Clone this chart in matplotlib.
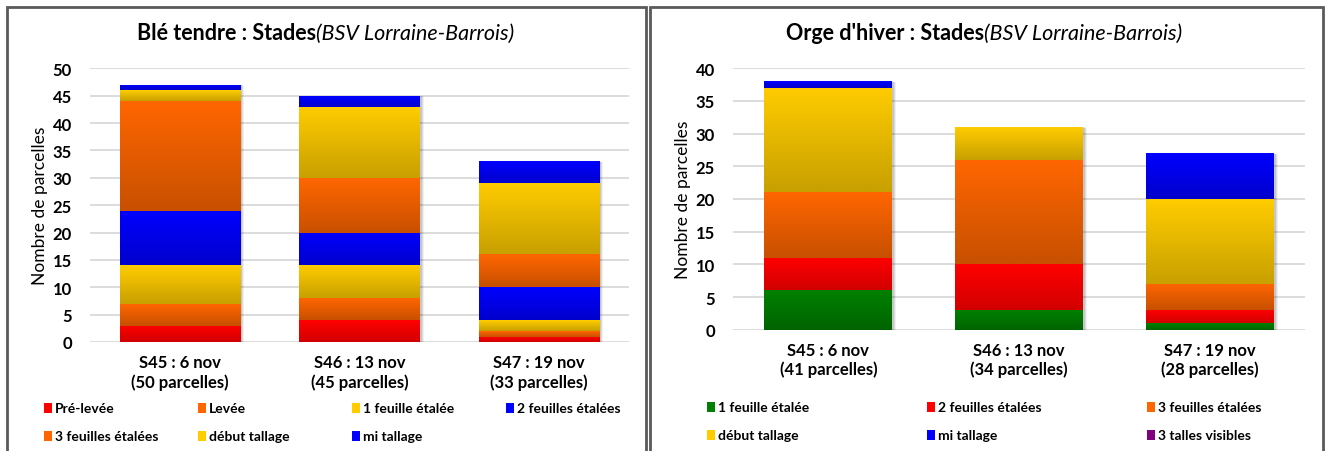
import numpy as np
import matplotlib
matplotlib.use("Agg")
import matplotlib.pyplot as plt
from matplotlib.colors import LinearSegmentedColormap
from matplotlib.patches import Rectangle

plt.rcParams['font.family'] = ['Lato', 'DejaVu Sans']

# --- data ---
ble_categories = ["S45 : 6 nov\n(50 parcelles)", "S46 : 13 nov\n(45 parcelles)", "S47 : 19 nov\n(33 parcelles)"]
ble_stages = ["Pré-levée", "Levée", "1 feuille étalée", "2 feuilles étalées",
              "3 feuilles étalées", "début tallage", "mi tallage"]
ble_pre_levee = [3, 4, 1]
ble_levee = [4, 4, 1]
ble_1_feuille = [7, 6, 2]
ble_2_feuilles = [10, 6, 6]
ble_3_feuilles = [20, 10, 6]
ble_debut_tallage = [2, 13, 13]
ble_mi_tallage = [1, 2, 4]

orge_categories = ["S45 : 6 nov\n(41 parcelles)", "S46 : 13 nov\n(34 parcelles)", "S47 : 19 nov\n(28 parcelles)"]
orge_stages = ["1 feuille étalée", "2 feuilles étalées", "3 feuilles étalées",
               "début tallage", "mi tallage", "3 talles visibles"]
orge_1_feuille = [6, 3, 1]
orge_2_feuilles = [5, 7, 2]
orge_3_feuilles = [10, 16, 4]
orge_debut_tallage = [16, 5, 13]
orge_mi_tallage = [1, 0, 7]
orge_3_talles = [0, 0, 0]

# gradient colours (top, bottom)
RED = ("#FF0000", "#D20000")
ORANGE = ("#FF6600", "#C85000")
YELLOW = ("#FFCC00", "#C8A000")
BLUE = ("#0000FF", "#0000CC")
GREEN = ("#008000", "#006400")
PURPLE = ("#800080", "#660066")

ble_series = [ble_pre_levee, ble_levee, ble_1_feuille, ble_2_feuilles,
              ble_3_feuilles, ble_debut_tallage, ble_mi_tallage]
ble_colors = [RED, ORANGE, YELLOW, BLUE, ORANGE, YELLOW, BLUE]
orge_series = [orge_1_feuille, orge_2_feuilles, orge_3_feuilles,
               orge_debut_tallage, orge_mi_tallage, orge_3_talles]
orge_colors = [GREEN, RED, ORANGE, YELLOW, BLUE, PURPLE]

W, H = 1325, 452
fig = plt.figure(figsize=(W / 100, H / 100), dpi=100)


def gradient_fill(ax, patches, colors):
    cmap = LinearSegmentedColormap.from_list("g", [colors[1], colors[0]])
    grad = np.linspace(0, 1, 64).reshape(-1, 1)
    for p in patches:
        if p.get_height() <= 0:
            continue
        x0, y0 = p.get_x(), p.get_y()
        x1, y1 = x0 + p.get_width(), y0 + p.get_height()
        im = ax.imshow(grad, cmap=cmap, origin="lower", aspect="auto",
                       extent=[x0, x1, y0, y1], zorder=3, interpolation="bilinear")
        im.set_clip_path(p)


def stacked(ax, categories, series, colors, ymax, px_per_unit):
    x = np.arange(len(categories))
    width = 0.67
    totals = np.sum(series, axis=0)
    # soft shadow on the right
    for k, a in enumerate([0.10, 0.08, 0.06]):
        dx = (k + 2) / px_per_unit
        ax.bar(x + dx, totals + 0.05 * (k + 1), width, bottom=-0.1 * (k + 1),
               color="black", alpha=a, lw=0, zorder=2)
    bottom = np.zeros(len(categories))
    for vals, col in zip(series, colors):
        bars = ax.bar(x, vals, width, bottom=bottom, color="none", lw=0, zorder=3)
        gradient_fill(ax, bars.patches, col)
        bottom += np.array(vals)
    ax.set_xlim(-0.5, len(categories) - 0.5)
    ax.set_ylim(0, ymax)
    ax.set_yticks(np.arange(0, ymax + 1, 5))
    ax.set_xticks(x)
    ax.set_xticklabels(categories, fontsize=12, fontweight="bold", linespacing=1.2)
    for t in ax.get_yticklabels():
        t.set_fontweight("bold")
        t.set_fontsize(12)
    ax.tick_params(axis="both", length=0)
    ax.tick_params(axis="x", pad=9)
    ax.tick_params(axis="y", pad=13)
    ax.grid(axis="y", color="#D9D9D9", lw=1.3, zorder=0)
    ax.set_axisbelow(True)
    for s in ax.spines.values():
        s.set_visible(False)
    ax.set_ylabel("Nombre de parcelles", fontsize=12.5)


def legend(labels, colors, ncol, x0, dx, rows_y):
    for i, (lab, col) in enumerate(zip(labels, colors)):
        r, c = divmod(i, ncol)
        xp = x0 + c * dx
        yp = rows_y[r]
        fig.patches.append(Rectangle(((xp - 4) / W, 1 - (yp + 5) / H), 8 / W, 10 / H,
                                     transform=fig.transFigure, color=col[0], lw=0))
        fig.text((xp + 7) / W, 1 - yp / H, lab, fontsize=10, fontweight="bold",
                 va="center", ha="left")


# --- left: blé tendre ---
ax1 = fig.add_axes([90 / W, 1 - 343 / H, 539 / W, (343 - 69.3) / H])
stacked(ax1, ble_categories, ble_series, ble_colors, 50, 180)
ax1.yaxis.set_label_coords(-0.077, 0.5)
fig.text(316 / W, 1 - 34 / H, "Blé tendre : Stades", fontsize=15.5, fontweight="bold",
         ha="right", va="center")
fig.text(316 / W, 1 - 34 / H, "(BSV Lorraine-Barrois)", fontsize=15.5, style="italic",
         ha="left", va="center")
legend(ble_stages, ble_colors, 4, 48, 154, [409, 437])

# --- right: orge d'hiver ---
ax2 = fig.add_axes([733 / W, 1 - 330.7 / H, 572 / W, (330.7 - 69.3) / H])
stacked(ax2, orge_categories, orge_series, orge_colors, 40, 190)
ax2.yaxis.set_label_coords(-0.073, 0.5)
fig.text(984 / W, 1 - 34 / H, "Orge d'hiver : Stades", fontsize=15.5, fontweight="bold",
         ha="right", va="center")
fig.text(984 / W, 1 - 34 / H, "(BSV Lorraine-Barrois)", fontsize=15.5, style="italic",
         ha="left", va="center")
legend(orge_stages, orge_colors, 3, 711, 220, [408, 436])

# panel borders
for xa, xb in [(7, 646), (650, 1323)]:
    fig.patches.append(Rectangle((xa / W, -0.1), (xb - xa) / W, 1.1 - 8 / H,
                                 transform=fig.transFigure, fill=False,
                                 edgecolor="#5A5A5A", lw=2))

fig.savefig("out.png", dpi=100)
